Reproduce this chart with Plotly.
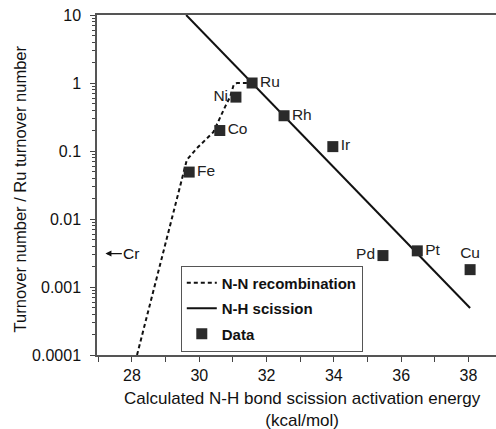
import plotly.graph_objects as go
import numpy as np

# ---- data ----
metals = ["Ru", "Ni", "Co", "Fe", "Rh", "Ir", "Pd", "Pt", "Cu"]
energy = [31.57, 31.09, 30.61, 29.70, 32.52, 33.97, 35.46, 36.48, 38.05]
turnover = [1.0, 0.62, 0.20, 0.049, 0.33, 0.116, 0.0029, 0.0034, 0.0018]
label_pos = ["middle right", "middle left", "middle right", "middle right",
             "middle right", "middle right", "middle left", "middle right", "top center"]

nh_x = [29.61, 38.05]
nh_y = [10.0, 0.00049]

nn_x = [28.15, 28.67, 29.34, 29.63, 29.93, 30.42, 30.77, 30.92, 31.02, 31.12, 31.42]
nn_y = [0.0001, 0.001, 0.019, 0.074, 0.11, 0.19, 0.45, 0.63, 0.93, 1.0, 1.0]

cr_label = "Cr"
cr_x_text = 27.98
cr_x_arrow = 27.21
cr_y = 0.0031

y_tickvals = [10, 1, 0.1, 0.01, 0.001, 0.0001]
y_ticktext = ["10", "1", "0.1", "0.01", "0.001", "0.0001"]
x_tickvals = [28, 30, 32, 34, 36, 38]

FONT = "Liberation Sans, Arial, Helvetica, sans-serif"
INK = "#111111"

fig = go.Figure()
fig.add_trace(go.Scatter(
    x=nn_x, y=nn_y, mode="lines", name="<b>N-N recombination</b>",
    line=dict(color=INK, width=2, dash="4px,3px"), legendgroup="a"))
fig.add_trace(go.Scatter(
    x=nh_x, y=nh_y, mode="lines", name="<b>N-H scission</b>",
    line=dict(color=INK, width=2), legendgroup="b"))
fig.add_trace(go.Scatter(
    x=energy, y=turnover, mode="markers+text", name="<b>Data</b>",
    text=metals, textposition=label_pos,
    textfont=dict(size=15.5, color="#222", family=FONT),
    marker=dict(symbol="square", size=11, color="#2a2a2a"),
    legendgroup="c", cliponaxis=False))

minor_vals = [m * 10.0 ** e for e in range(-4, 1) for m in range(2, 10)]

fig.update_xaxes(
    range=[26.96, 38.82], tickvals=x_tickvals, ticks="outside", ticklen=5,
    tickcolor="#444", tickwidth=1,
    minor=dict(dtick=1, ticks="outside", ticklen=5, tickcolor="#444"),
    showline=True, linecolor="#555", linewidth=1.5, mirror=True,
    showgrid=False, zeroline=False,
    tickfont=dict(size=16, color=INK, family=FONT))
fig.update_yaxes(
    type="log", range=[-4, 1], tickvals=y_tickvals, ticktext=y_ticktext,
    ticks="outside", ticklen=5, tickcolor="#444", ticklabelstandoff=6,
    minor=dict(tickvals=minor_vals, ticks="outside", ticklen=3, tickcolor="#444"),
    showline=True, linecolor="#555", linewidth=1.5,
    showgrid=False, zeroline=False,
    tickfont=dict(size=16, color=INK, family=FONT))

fig.add_annotation(
    x=cr_x_arrow, y=np.log10(cr_y), ax=cr_x_text, ay=np.log10(cr_y),
    xref="x", yref="y", axref="x", ayref="y",
    text=cr_label, showarrow=True, arrowhead=2, arrowsize=1, arrowwidth=1.2,
    arrowcolor=INK, font=dict(size=15.5, color=INK, family=FONT))

fig.add_annotation(
    x=0.516, y=-0.094, xref="paper", yref="paper", xanchor="center", yanchor="top",
    text="Calculated N-H bond scission activation energy<br>(kcal/mol)",
    showarrow=False, font=dict(size=17, color=INK, family=FONT))

fig.add_annotation(
    x=-0.193, y=0.49, xref="paper", yref="paper", xanchor="center", yanchor="middle",
    text="Turnover number / Ru turnover number", textangle=-90,
    showarrow=False, font=dict(size=16.5, color=INK, family=FONT))

fig.update_layout(
    width=496, height=429,
    margin=dict(l=97, r=0, t=15, b=74),
    paper_bgcolor="white", plot_bgcolor="white",
    font=dict(family=FONT, color=INK),
    legend=dict(x=0.21, y=0.263, xanchor="left", yanchor="top",
                bordercolor="#555", borderwidth=1, bgcolor="white",
                font=dict(size=15, color=INK, family=FONT),
                tracegroupgap=3),
)

fig.write_html("out.html")
